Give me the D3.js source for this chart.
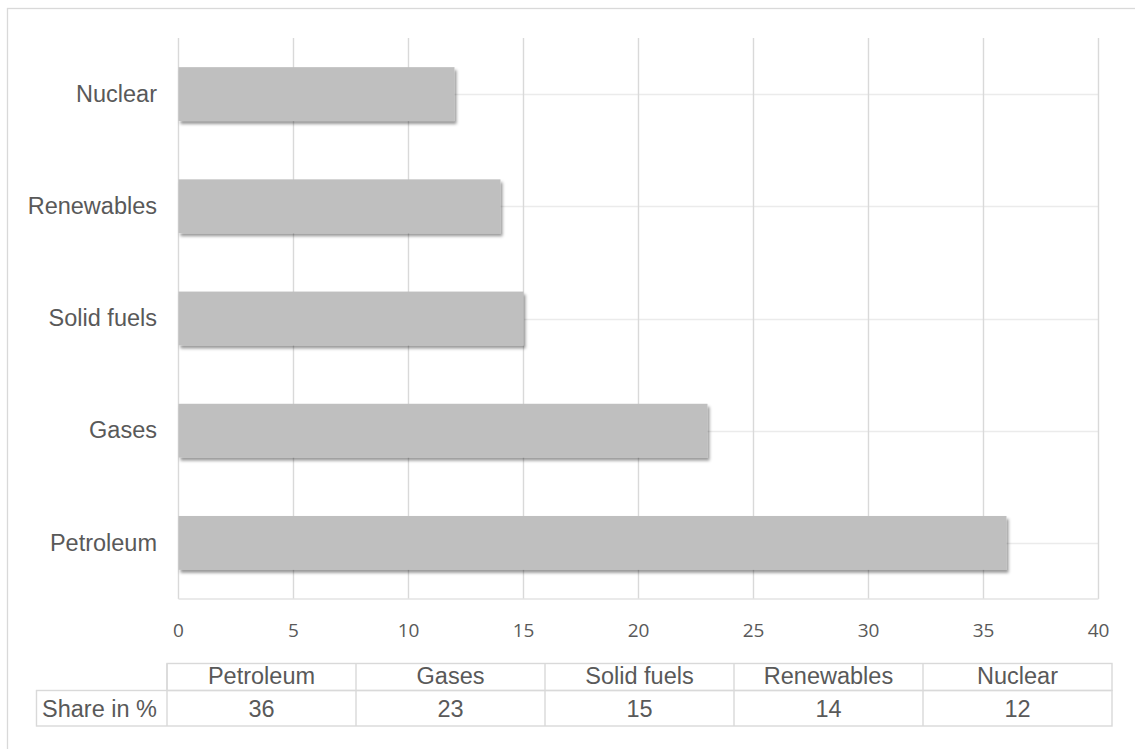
<!DOCTYPE html>
<html>
<head>
<meta charset="utf-8">
<script src="https://cdn.jsdelivr.net/npm/d3@7"></script>
<style>
  html, body { margin: 0; padding: 0; background: #fff; }
  svg { display: block; }
</style>
</head>
<body>
<svg id="chart" width="1135" height="749"></svg>
<script>
// Energy sources and their share (%)
const categories = ["Petroleum", "Gases", "Solid fuels", "Renewables", "Nuclear"];
const shares = [36, 23, 15, 14, 12];
const xTicks = [0, 5, 10, 15, 20, 25, 30, 35, 40];
const rowLabel = "Share in %";

const textColor = "#595959";
const gridColor = "#d9d9d9";
const barColor = "#bfbfbf";
const labelFont = "'Liberation Sans', Arial, sans-serif";
const tickFont = "'Open Sans', 'Lato', sans-serif";
const labelSize = 23.5;

const svg = d3.select("#chart");
const data = categories.map((c, i) => ({ cat: c, value: shares[i] }));

// drop shadow for bars
const defs = svg.append("defs");
const f = defs.append("filter").attr("id", "shadow")
  .attr("x", "-5%").attr("y", "-20%").attr("width", "110%").attr("height", "150%");
f.append("feDropShadow").attr("dx", 2).attr("dy", 3)
  .attr("stdDeviation", 1.8).attr("flood-color", "#000").attr("flood-opacity", 0.4);

// outer frame
svg.append("rect").attr("x", 7.5).attr("y", 8.5)
  .attr("width", 1200).attr("height", 800)
  .attr("fill", "none").attr("stroke", gridColor).attr("stroke-width", 1.3);

const plot = { left: 178.5, right: 1098.5, top: 38, bottom: 599 };

const x = d3.scaleLinear().domain([0, 40]).range([plot.left, plot.right]);
const y = d3.scaleBand()
  .domain(categories.slice().reverse())
  .range([plot.top, plot.bottom])
  .paddingInner(0.52).paddingOuter(0.26);

// horizontal gridlines through category centres
svg.append("g").selectAll("line").data(categories).join("line")
  .attr("x1", plot.left).attr("x2", plot.right)
  .attr("y1", d => Math.round(y(d) + y.bandwidth() / 2) + 0.5)
  .attr("y2", d => Math.round(y(d) + y.bandwidth() / 2) + 0.5)
  .attr("stroke", "#ebebeb").attr("stroke-width", 1.3);

// vertical gridlines
svg.append("g").selectAll("line").data(xTicks).join("line")
  .attr("x1", d => x(d)).attr("x2", d => x(d))
  .attr("y1", plot.top).attr("y2", plot.bottom)
  .attr("stroke", gridColor).attr("stroke-width", 1.4);

// bottom axis line
svg.append("line").attr("x1", plot.left).attr("x2", plot.right)
  .attr("y1", plot.bottom).attr("y2", plot.bottom)
  .attr("stroke", "#e3e3e3").attr("stroke-width", 1.3);

// bars
svg.append("g").selectAll("rect").data(data).join("rect")
  .attr("x", x(0))
  .attr("y", d => y(d.cat))
  .attr("width", d => x(d.value) - x(0))
  .attr("height", y.bandwidth())
  .attr("fill", barColor)
  .attr("filter", "url(#shadow)");

// category labels
svg.append("g").selectAll("text").data(categories).join("text")
  .attr("x", 157)
  .attr("y", d => y(d) + y.bandwidth() / 2)
  .attr("dy", "0.33em")
  .attr("text-anchor", "end")
  .attr("font-family", labelFont).attr("font-size", labelSize)
  .attr("fill", textColor)
  .text(d => d);

// x tick labels
svg.append("g").selectAll("text").data(xTicks).join("text")
  .attr("x", d => x(d))
  .attr("y", 637)
  .attr("text-anchor", "middle")
  .attr("font-family", tickFont).attr("font-size", 19)
  .attr("fill", textColor)
  .text(d => d);

// data table beneath the chart
const table = { left: 167, right: 1112, top: 663.5, mid: 690.5, bottom: 726, labelLeft: 36.5 };
const col = d3.scaleBand().domain(categories).range([table.left, table.right]);
const tg = svg.append("g").attr("stroke", gridColor).attr("stroke-width", 1.4).attr("fill", "none");

// header row
tg.append("rect").attr("x", table.left).attr("y", table.top)
  .attr("width", table.right - table.left).attr("height", table.mid - table.top);
// value row including row label
tg.append("rect").attr("x", table.labelLeft).attr("y", table.mid)
  .attr("width", table.right - table.labelLeft).attr("height", table.bottom - table.mid);
// column separators
tg.selectAll("line.sep").data(categories).join("line")
  .attr("x1", d => col(d)).attr("x2", d => col(d))
  .attr("y1", table.top).attr("y2", table.bottom);

svg.append("g").selectAll("text").data(categories).join("text")
  .attr("x", d => col(d) + col.bandwidth() / 2)
  .attr("y", 684)
  .attr("text-anchor", "middle")
  .attr("font-family", labelFont).attr("font-size", labelSize)
  .attr("fill", textColor)
  .text(d => d);

svg.append("g").selectAll("text").data(data).join("text")
  .attr("x", d => col(d.cat) + col.bandwidth() / 2)
  .attr("y", 716.5)
  .attr("text-anchor", "middle")
  .attr("font-family", labelFont).attr("font-size", labelSize)
  .attr("fill", textColor)
  .text(d => d.value);

svg.append("text")
  .attr("x", 42).attr("y", 716.5)
  .attr("font-family", labelFont).attr("font-size", labelSize)
  .attr("fill", textColor)
  .text(rowLabel);
</script>
</body>
</html>
